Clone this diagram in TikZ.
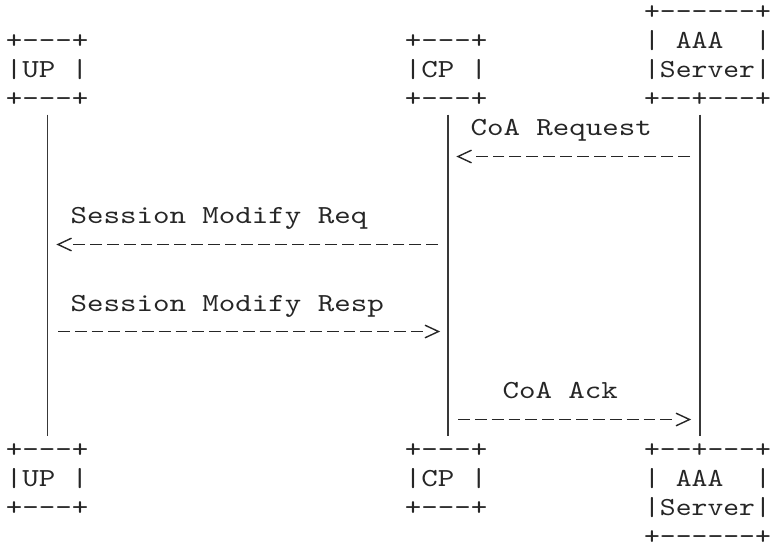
\documentclass[tikz,border=0pt]{standalone}
\usepackage{fontspec}
\usetikzlibrary{calc}
% typewriter face, widened to a Courier-like pitch (16.5pt per character)
\newfontfamily\asciifont{lmmono10-regular.otf}[FakeStretch=1.2088]
% slightly narrower pitch (15.85pt) for the AAA Server boxes at the right edge
\newfontfamily\asciinarrow{lmmono10-regular.otf}[FakeStretch=1.161]
% every text row is 29.2pt high: 21.1pt above and 8.1pt below the baseline
\newcommand\rowstrut{\vrule width 0pt height 21.1pt depth 8.1pt}
\newcommand\aline[1]{\hbox{\rowstrut#1}}
\newcommand\blank{\hphantom{x}}
\newcommand\asciirows[1]{\vtop{\baselineskip=29.2pt\lineskiplimit=-100pt\lineskip=0pt #1}}

\begin{document}
\begin{tikzpicture}[x=1pt,y=-1pt,
  ascii/.style={inner sep=0pt, outer sep=0pt, anchor=base west, text=black!85,
    font=\asciifont\fontsize{26pt}{29.2pt}\selectfont},
  asciiN/.style={ascii, font=\asciinarrow\fontsize{26pt}{29.2pt}\selectfont},
  lifeline/.style={draw=black!78, line width=1.3pt},
  dashnarrow/.style={draw=black!85, line width=1.45pt, dash pattern=on 11.8pt off 5pt},
  dashwide/.style={draw=black!85, line width=1.45pt, dash pattern=on 11.87pt off 5pt},
  chevron/.style={draw=black!85, line width=1.4pt, miter limit=10}]
\useasboundingbox (0,0) rectangle (770,549);

% participant boxes, top row
\node[ascii] (upTop) at (5.75,48.2) {\asciirows{\aline{+---+}\aline{|UP\blank|}\aline{+---+}}};
\node[ascii] (cpTop) at (404.75,48.2) {\asciirows{\aline{+---+}\aline{|CP\blank|}\aline{+---+}}};
\node[asciiN] (aaaTop) at (644.1,19) {\asciirows{\aline{+------+}\aline{|\blank AAA\blank\blank|}\aline{|Server|}\aline{+--+---+}}};

% participant boxes, bottom row
\node[ascii] (upBot) at (5.75,457) {\asciirows{\aline{+---+}\aline{|UP\blank|}\aline{+---+}}};
\node[ascii] (cpBot) at (404.75,457) {\asciirows{\aline{+---+}\aline{|CP\blank|}\aline{+---+}}};
\node[asciiN] (aaaBot) at (644.1,457) {\asciirows{\aline{+--+---+}\aline{|\blank AAA\blank\blank|}\aline{|Server|}\aline{+------+}}};

% lifelines
\draw[lifeline] ([xshift=0.5pt]upTop.south) -- ([xshift=0.5pt]upBot.north);
\draw[lifeline] ([xshift=2pt]cpTop.south) -- ([xshift=2pt]cpBot.north);
\draw[lifeline] ([xshift=-7.5pt]aaaTop.south) -- ([xshift=-7.5pt]aaaBot.north);

% message labels
\node[ascii] (coaReqLabel) at (470.5,135.8) {CoA Request};
\node[ascii] (smReqLabel) at (70.5,223.4) {Session Modify Req};
\node[ascii] (smRespLabel) at (70.5,311) {Session Modify Resp};
\node[ascii] (coaAckLabel) at (502.5,398.6) {CoA Ack};

% message ends
\coordinate (coaReqFrom) at (690,156.5);   \coordinate (coaReqTo) at (475.7,156.5);  \coordinate (coaReqTip) at (458,156.5);
\coordinate (smReqFrom) at (438,244.5);    \coordinate (smReqTo) at (73.4,244.5);    \coordinate (smReqTip) at (58,244.5);
\coordinate (smRespFrom) at (58,331.5);    \coordinate (smRespTo) at (422.6,331.5);  \coordinate (smRespTip) at (438.5,331.5);
\coordinate (coaAckFrom) at (458,419.5);   \coordinate (coaAckTo) at (672.3,419.5);  \coordinate (coaAckTip) at (689.5,419.5);

% AAA -> CP: CoA Request
\draw[dashwide] (coaReqFrom) -- (coaReqTo);
\draw[chevron] ([shift={(13.5,-6.3)}]coaReqTip) -- (coaReqTip) -- ([shift={(13.5,6.3)}]coaReqTip);
% CP -> UP: Session Modify Req
\draw[dashnarrow] (smReqFrom) -- (smReqTo);
\draw[chevron] ([shift={(13.5,-6.3)}]smReqTip) -- (smReqTip) -- ([shift={(13.5,6.3)}]smReqTip);
% UP -> CP: Session Modify Resp
\draw[dashnarrow] (smRespFrom) -- (smRespTo);
\draw[chevron] ([shift={(-13.5,-6.3)}]smRespTip) -- (smRespTip) -- ([shift={(-13.5,6.3)}]smRespTip);
% CP -> AAA: CoA Ack
\draw[dashwide] (coaAckFrom) -- (coaAckTo);
\draw[chevron] ([shift={(-13.5,-6.3)}]coaAckTip) -- (coaAckTip) -- ([shift={(-13.5,6.3)}]coaAckTip);
\end{tikzpicture}
\end{document}
